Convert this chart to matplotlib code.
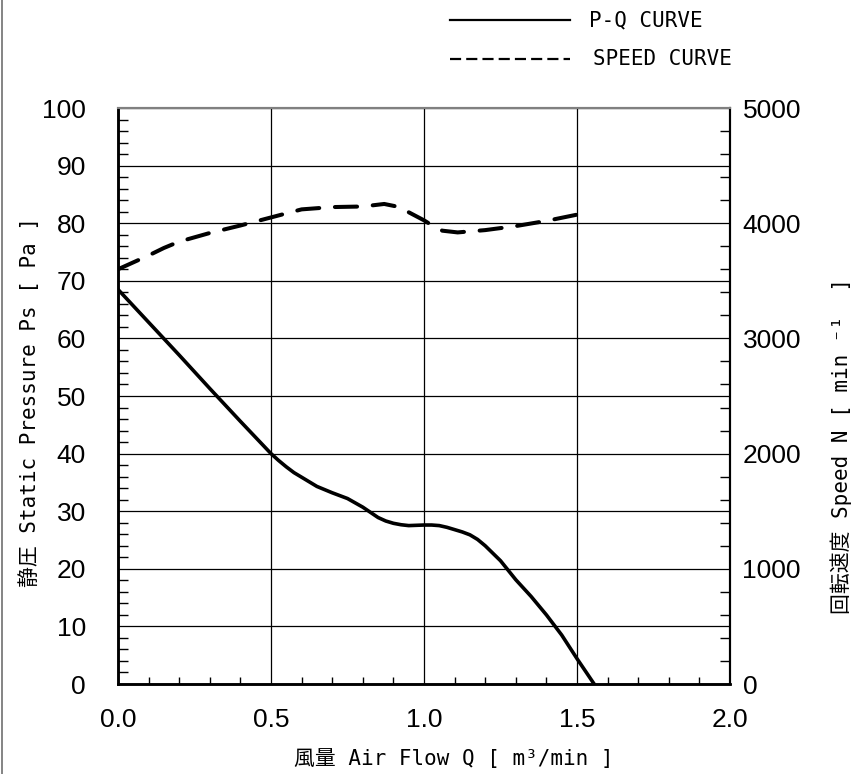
import matplotlib
matplotlib.use("Agg")
import matplotlib.pyplot as plt
from matplotlib.lines import Line2D
from matplotlib.ticker import MultipleLocator

plt.rcParams['font.family'] = ['Liberation Sans', 'DejaVu Sans']
LBL_FONT = ['DejaVu Sans Mono', 'Noto Sans CJK JP', 'DejaVu Sans']

# P-Q curve (air flow m3/min, static pressure Pa)
pq_flow = [0.00, 0.10, 0.20, 0.30, 0.40, 0.50, 0.525, 0.55, 0.575, 0.60, 0.65,
           0.70, 0.75, 0.80, 0.85, 0.875, 0.90, 0.925, 0.95, 0.975, 1.00,
           1.025, 1.05, 1.075, 1.10, 1.125, 1.15, 1.175, 1.20, 1.25, 1.30,
           1.35, 1.40, 1.45, 1.50, 1.556]
pq_pressure = [68.5, 62.8, 57.1, 51.3, 45.6, 40.0, 38.8, 37.7, 36.7, 35.9, 34.3,
               33.2, 32.2, 30.7, 28.9, 28.3, 27.9, 27.65, 27.5, 27.55, 27.6,
               27.6, 27.5, 27.2, 26.8, 26.4, 25.9, 25.1, 24.0, 21.4, 18.1,
               15.2, 12.0, 8.5, 4.4, 0.0]

# speed curve (air flow m3/min, rotation speed min-1)
sp_flow = [0.00, 0.05, 0.10, 0.15, 0.20, 0.30, 0.40, 0.50, 0.60, 0.70, 0.80,
           0.87, 0.92, 0.95, 1.00, 1.03, 1.06, 1.11, 1.20, 1.30, 1.40, 1.52]
sp_speed = [3600, 3660, 3720, 3785, 3840, 3915, 3980, 4050, 4120, 4140, 4145,
            4167, 4140, 4095, 4025, 3975, 3935, 3920, 3940, 3975, 4020, 4085]

W, H = 859, 774
fig = plt.figure(figsize=(W / 100, H / 100), dpi=100)
ax = fig.add_axes([118 / W, 1 - 684 / H, 612 / W, 576 / H])
ax2 = ax.twinx()

ax.set_xlim(0, 2.0)
ax.set_ylim(0, 100)
ax2.set_ylim(0, 5000)

ax.xaxis.set_major_locator(MultipleLocator(0.5))
ax.xaxis.set_minor_locator(MultipleLocator(0.1))
ax.yaxis.set_major_locator(MultipleLocator(10))
ax.yaxis.set_minor_locator(MultipleLocator(2))
ax2.yaxis.set_major_locator(MultipleLocator(1000))
ax2.yaxis.set_minor_locator(MultipleLocator(200))

ax.grid(True, which='major', color='black', lw=0.9)
ax.set_axisbelow(True)

ax.xaxis.set_major_formatter(plt.FuncFormatter(lambda v, p: f"{v:.1f}"))
ax.yaxis.set_major_formatter(plt.FuncFormatter(lambda v, p: f"{v:.0f}"))
ax2.yaxis.set_major_formatter(plt.FuncFormatter(lambda v, p: f"{v:.0f}"))

# pads in points (dpi 100)
ax.tick_params(axis='x', which='major', length=0, pad=17, labelsize=19)
ax.tick_params(axis='y', which='major', length=0, pad=23, labelsize=19)
ax.tick_params(axis='x', which='minor', direction='in', length=5, width=1, top=False)
ax.tick_params(axis='y', which='minor', direction='in', length=7, width=1, right=False)
ax2.tick_params(axis='y', which='major', length=0, pad=9, labelsize=19)
ax2.tick_params(axis='y', which='minor', direction='in', length=7, width=1)

for a in (ax, ax2):
    a.spines['top'].set_color('#808080')
    a.spines['top'].set_linewidth(1.5)
    a.spines['left'].set_linewidth(1.8)
    a.spines['bottom'].set_linewidth(1.8)
    a.spines['right'].set_linewidth(1.5)

ax.plot(pq_flow, pq_pressure, color='black', lw=2.6, solid_capstyle='round',
        solid_joinstyle='round', zorder=5)
ax2.plot(sp_flow, sp_speed, color='black', lw=2.9, dashes=(5.5, 3.9),
         dash_capstyle='round', zorder=5)

# axis labels
fig.text(30 / W, 1 - 402 / H, '静圧 Static Pressure Ps [ Pa ]', rotation=90,
         ha='center', va='center', fontsize=15, family=LBL_FONT)
fig.text(841 / W, 1 - 446 / H, '回転速度 Speed N [ min ⁻¹  ]', rotation=90,
         ha='center', va='center', fontsize=15, family=LBL_FONT)
fig.text(454 / W, 1 - 759 / H, '風量 Air Flow Q [ m³/min ]',
         ha='center', va='center', fontsize=15, family=LBL_FONT)

# legend drawn above the plot
fig.add_artist(Line2D([450 / W, 570 / W], [1 - 20 / H, 1 - 20 / H],
                      color='black', lw=1.6))
fig.add_artist(Line2D([450 / W, 570 / W], [1 - 59 / H, 1 - 59 / H],
                      color='black', lw=1.6, dashes=(5, 2.3)))
fig.text(589 / W, 1 - 20 / H, 'P-Q CURVE', ha='left', va='center',
         fontsize=15, family=LBL_FONT)
fig.text(593 / W, 1 - 59 / H, 'SPEED CURVE', ha='left', va='center',
         fontsize=15, family=LBL_FONT)

# frame line at the left edge
fig.add_artist(Line2D([1.5 / W, 1.5 / W], [0, 1], color='#707070', lw=1.2))

fig.savefig('out.png', dpi=100)
